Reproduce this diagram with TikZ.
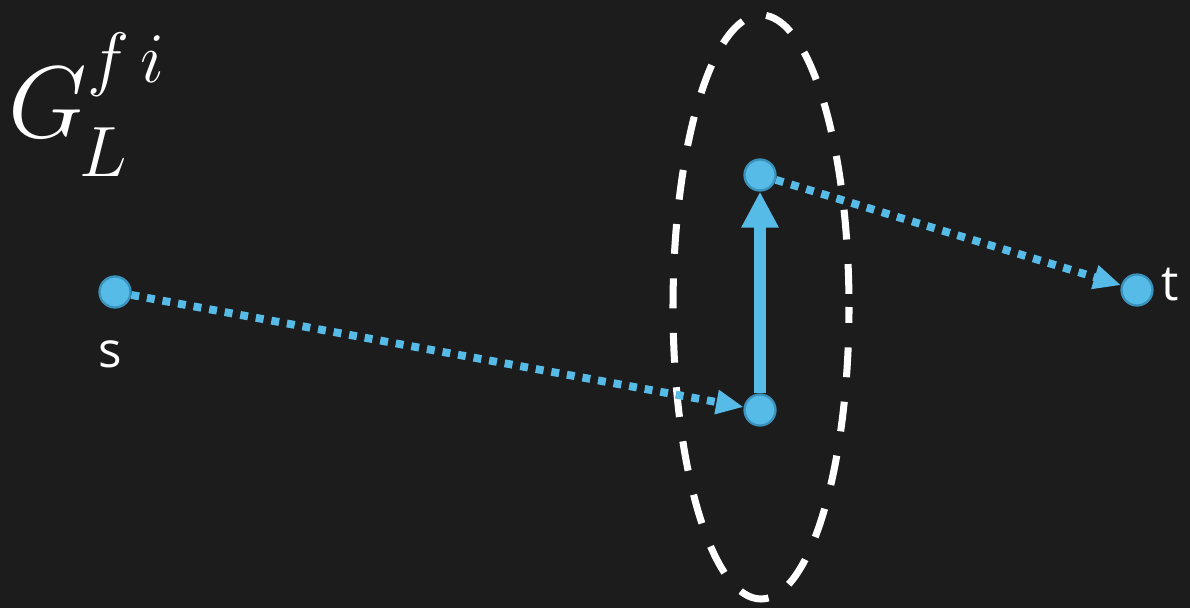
\RequirePackage{fix-cm}
\documentclass[tikz,border=0pt]{standalone}
\usepackage{fontspec}
\setsansfont{Open Sans}
\usetikzlibrary{arrows.meta}
\definecolor{vblue}{HTML}{56BBE6}
\definecolor{vrim}{HTML}{3A93BC}
\definecolor{board}{HTML}{1C1C1C}
\begin{document}
\begin{tikzpicture}[x=0.02cm,y=-0.02cm,
  vertex/.style={circle,fill=vblue,draw=vrim,line width=1.3pt,minimum size=0.62cm,inner sep=0pt},
  hop/.style={vblue,line width=4.5pt,dash pattern=on 4.5pt off 4.5pt,-{Triangle[length=0.55cm,width=0.46cm]}},
  jump/.style={vblue,line width=6.5pt,-{Triangle[length=0.72cm,width=0.7cm]}},
  lbl/.style={white,inner sep=0pt,font=\sffamily\fontsize{28}{30}\selectfont}]
 \useasboundingbox (0,0) rectangle (1190,608);
 \fill[board] (0,0) rectangle (1190,608);
 % title
 \node[white,anchor=base west,inner sep=0pt,font=\fontsize{58}{60}\selectfont] (title) at (8,137)
   {$G_{\mkern-2mu\raisebox{-8pt}{$\scriptstyle L$}}^{\raisebox{10pt}{$\scriptstyle f\,i$}}$};
 % group
 \draw[white,line width=4pt,dash pattern=on 17pt off 14pt,dash phase=8pt] (761,307) ellipse [x radius=88,y radius=292];
 % vertices
 \node[vertex] (s) at (115,292) {};
 \node[vertex] (u) at (760,410) {};
 \node[vertex] (v) at (760,175) {};
 \node[vertex] (t) at (1137,290) {};
 \node[lbl,anchor=base] (slbl) at (110,367) {s};
 \node[lbl,anchor=base west] (tlbl) at (1161,300) {t};
 % paths
 \draw[hop] (s) -- (u);
 \draw[jump] (u) -- (v);
 \draw[hop] (v) -- (t);
\end{tikzpicture}
\end{document}
